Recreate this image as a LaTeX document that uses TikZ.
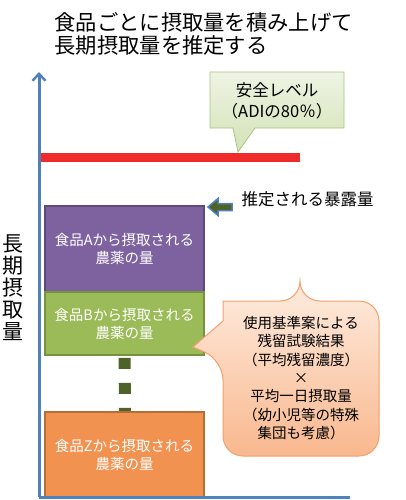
\documentclass[tikz,border=0pt]{standalone}
\usepackage{fontspec}
\setmainfont{Noto Sans CJK JP}
\usetikzlibrary{arrows.meta}
\definecolor{axisblue}{HTML}{4F81BD}
\definecolor{safered}{HTML}{EE2A2A}
\definecolor{purfill}{HTML}{7E62A0}
\definecolor{purdraw}{HTML}{5C4A7A}
\definecolor{grnfill}{HTML}{9BBB59}
\definecolor{grndraw}{HTML}{76923C}
\definecolor{orgfill}{HTML}{F29250}
\definecolor{orgdraw}{HTML}{B46E38}
\definecolor{olive}{HTML}{4F6228}
\definecolor{gctop}{HTML}{EEF4E4}
\definecolor{gcbot}{HTML}{D3E2B6}
\definecolor{gcdraw}{HTML}{A9C47F}
\definecolor{octop}{HTML}{FDE6D6}
\definecolor{ocbot}{HTML}{F9B88E}
\definecolor{ocdraw}{HTML}{F2A06A}
\tikzset{
  axisline/.style={draw=axisblue, line width=3pt},
  foodbox/.style={rectangle, line width=1.6pt, minimum width=159pt, inner sep=0pt,
    align=center, text=white, font=\fontsize{14.5}{18}\selectfont},
  dotline/.style={draw=olive, line width=12pt, dash pattern=on 0pt off 2pt on 11pt off 12pt},
}
\begin{document}
\begin{tikzpicture}[x=1pt,y=-1pt]
\useasboundingbox (0,0) rectangle (405,500);
% title
\node[anchor=west, align=left, font=\fontsize{21.3}{23.5}\selectfont] (title) at (51,34)
  {食品ごとに摂取量を積み上げて\\長期摂取量を推定する};
% vertical axis label
\node[align=center, font=\fontsize{21}{22}\selectfont] (ylab) at (12.5,287.5)
  {長\\期\\摂\\取\\量};
% axes
\coordinate (origin) at (39,497);
\coordinate (ytop) at (39,72);
\coordinate (xend) at (350,497);
% safety line
\coordinate (redL) at (38,157.5);
\coordinate (redR) at (300,157.5);
\draw[draw=safered, line width=8.5pt] (redL) -- (redR);
% green callout
\path[draw=gcdraw, line width=0.8pt, top color=gctop, bottom color=gcbot]
  (210,72) -- (344,72) -- (344,128) -- (255,128) -- (238,152) -- (233,128) -- (210,128) -- cycle;
\node[align=center, font=\fontsize{16.5}{20.5}\selectfont] (safe) at (277,101)
  {安全レベル\\（ADIの80％）};
% boxes and dashed connector
\node[foodbox, fill=purfill, draw=purdraw, minimum height=86pt] (A) at (124.5,249)
  {食品Aから摂取される\\農薬の量};
\node[foodbox, fill=grnfill, draw=grndraw, minimum height=63pt] (B) at (124.5,323.5)
  {食品Bから摂取される\\農薬の量};
\coordinate (Ztop) at (125,412);
\draw[dotline] (B.south) -- (Ztop);
\node[foodbox, fill=orgfill, draw=orgdraw, line width=2pt, minimum height=86pt] (Z) at (124.5,455)
  {食品Zから摂取される\\農薬の量};
% axes on top
\draw[axisline] (origin) -- (xend);
\draw[axisline, -{Straight Barb[length=7pt,width=13pt,line width=2.4pt]}] (origin) -- (ytop);
% exposure arrow
\path[fill=olive, draw=axisblue, line width=1.5pt]
  (208,207) -- (218,198.5) -- (218,203.5) -- (232,203.5) -- (232,210.5) -- (218,210.5) -- (218,215.5) -- cycle;
\node[anchor=west, font=\fontsize{16.5}{20}\selectfont] (expo) at (238,199)
  {推定される暴露量};
% orange callout
\path[draw=ocdraw, line width=1pt, top color=octop, bottom color=ocbot]
  (300,301) [rounded corners=20pt] -- (379,301) -- (379,456) -- (223,456) -- (223,360)
  [sharp corners] -- (193,347) -- (223,321) -- (223,301) [rounded corners=20pt] -- (300,301) -- cycle;
\node[align=center, font=\fontsize{14.5}{18.3}\selectfont] (calc) at (301,378)
  {使用基準案による\\残留試験結果\\（平均残留濃度）\\×\\平均一日摂取量\\（幼小児等の特殊\\集団も考慮）};
\end{tikzpicture}
\end{document}
